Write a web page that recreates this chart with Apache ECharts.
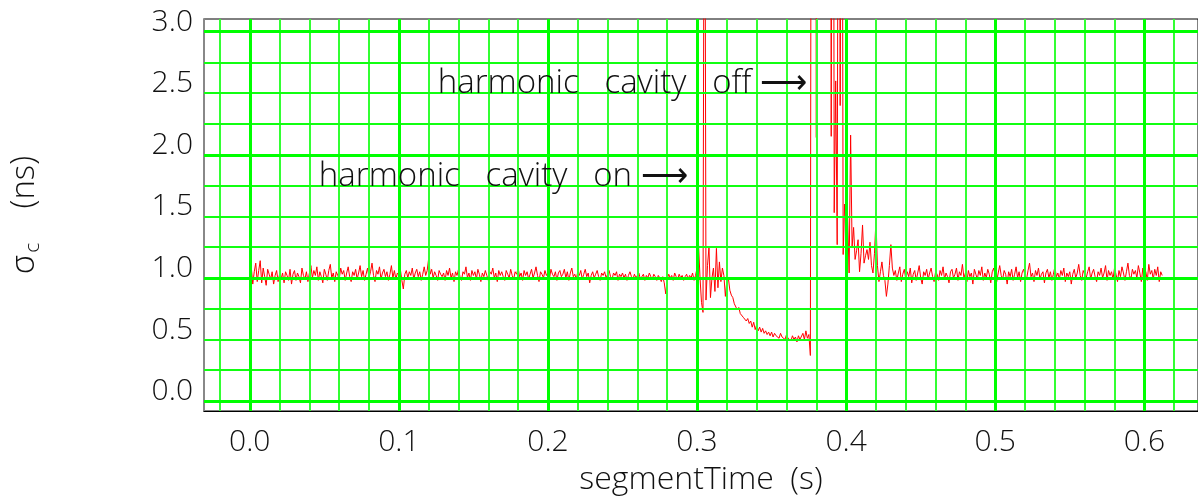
<!DOCTYPE html>
<html><head><meta charset="utf-8">
<script src="https://cdn.jsdelivr.net/npm/echarts@6/dist/echarts.min.js"></script>
<style>html,body{margin:0;padding:0;background:#fff}#c{width:1198px;height:503px}</style>
</head><body><div id="c"></div>
<script>
// sampling of the trace (s)
const sampleStart = 0.0;
const sampleStep = 0.001;
// sigma_c (ns) before the harmonic cavity is switched on (t = 0 .. 0.299 s)
const baselineBefore = [
  0.98, 1.09, 0.95, 1.05, 1.12, 0.97, 1.06, 1.14, 0.96, 1.08,
  1.01, 0.94, 1.07, 1.03, 0.99, 1.05, 0.95, 1.02, 1.06, 0.97,
  1.03, 0.99, 1.04, 0.96, 1.05, 1.02, 0.98, 1.07, 0.95, 1.03,
  1.06, 0.98, 1.04, 1.01, 0.96, 1.08, 1.02, 0.99, 1.05, 0.97,
  1.04, 1.10, 1.00, 1.06, 1.02, 1.09, 0.98, 1.05, 1.01, 0.96,
  1.07, 1.03, 0.98, 1.06, 1.11, 1.00, 1.04, 0.97, 1.05, 1.02,
  0.99, 1.08, 1.03, 1.06, 0.98, 1.04, 1.09, 1.01, 0.97, 1.05,
  1.02, 1.07, 0.99, 1.04, 1.10, 1.01, 1.06, 0.98, 1.03, 1.08,
  1.00, 1.05, 1.12, 1.02, 0.97, 1.06, 1.03, 1.09, 0.99, 1.04,
  1.07, 1.01, 1.05, 0.98, 1.03, 1.10, 1.00, 1.06, 0.99, 1.04,
  1.02, 1.07, 0.98, 0.91, 1.03, 1.06, 1.00, 1.05, 1.02, 1.08,
  0.99, 1.04, 1.07, 1.01, 1.05, 0.98, 1.03, 1.09, 1.02, 1.06,
  1.16, 1.03, 1.07, 1.00, 1.05, 1.02, 0.98, 1.06, 1.03, 1.01,
  1.04, 0.98, 1.06, 1.02, 1.08, 1.00, 1.04, 0.97, 1.05, 1.02,
  1.07, 1.01, 0.98, 1.05, 1.03, 1.09, 1.00, 1.04, 0.98, 1.06,
  1.02, 1.05, 0.99, 1.07, 1.03, 0.97, 1.04, 1.01, 1.06, 1.02,
  0.98, 1.05, 1.03, 1.08, 1.00, 1.04, 0.97, 1.06, 1.02, 1.05,
  1.01, 0.98, 1.06, 1.03, 1.00, 1.07, 1.02, 0.99, 1.05, 1.03,
  1.08, 1.01, 1.04, 0.98, 1.06, 1.02, 1.05, 0.99, 1.03, 1.07,
  1.00, 1.04, 1.09, 1.02, 0.97, 1.05, 1.03, 1.00, 1.06, 1.02,
  1.04, 0.99, 1.07, 1.03, 1.01, 1.05, 0.98, 1.04, 1.06, 1.01,
  1.03, 1.07, 1.00, 1.05, 0.98, 1.04, 1.08, 1.01, 1.03, 0.99,
  1.05, 1.02, 1.06, 0.99, 1.03, 1.07, 1.01, 1.04, 0.96, 1.02,
  1.05, 1.00, 1.03, 1.06, 1.01, 0.98, 1.04, 1.02, 1.05, 1.00,
  1.03, 1.06, 1.01, 0.99, 1.04, 1.02, 1.05, 0.98, 1.03, 1.01,
  1.04, 1.00, 1.03, 0.98, 1.02, 1.05, 1.01, 0.99, 1.03, 1.00,
  1.02, 1.04, 0.99, 1.01, 1.03, 0.98, 1.02, 1.00, 1.04, 1.01,
  0.99, 1.03, 1.01, 0.98, 1.02, 1.00, 0.97, 1.01, 0.96, 0.87,
  0.99, 1.03, 1.00, 1.02, 0.98, 1.04, 1.01, 0.99, 1.03, 1.00,
  1.02, 0.98, 1.01, 1.03, 0.99, 1.02, 1.00, 1.04, 0.98, 1.02
];
// harmonic cavity switched on (t = 0.300 .. 0.323 s)
const cavityOn = [
  1.08, 1.27, 1.00, 0.80, 0.72, 6.00, 0.82, 1.10, 1.25, 0.84,
  1.00, 1.08, 0.89, 1.24, 0.92, 1.13, 0.97, 1.08, 1.02, 0.85,
  0.98, 1.00, 0.90, 0.86
];
// bunch length decay with the cavity on (t = 0.324 .. 0.375 s)
const decay = [
  0.84, 0.79, 0.78, 0.74, 0.76, 0.71, 0.72, 0.68, 0.69, 0.65,
  0.67, 0.63, 0.65, 0.60, 0.64, 0.58, 0.62, 0.57, 0.60, 0.56,
  0.59, 0.55, 0.57, 0.54, 0.56, 0.53, 0.56, 0.52, 0.55, 0.53,
  0.54, 0.51, 0.55, 0.52, 0.53, 0.50, 0.54, 0.51, 0.52, 0.49,
  0.53, 0.50, 0.52, 0.48, 0.53, 0.50, 0.51, 0.55, 0.50, 0.57,
  0.51, 0.54
];
// harmonic cavity switched off (t = 0.376 .. 0.432 s)
const cavityOff = [
  0.37, 9.00, 9.00, 9.00, 2.14, 9.00, 9.00, 9.00, 9.00, 9.00,
  9.00, 9.00, 9.00, 9.00, 2.15, 9.00, 1.53, 2.60, 1.27, 7.00,
  2.40, 7.00, 1.19, 1.60, 1.37, 1.50, 1.04, 2.16, 1.25, 1.41,
  1.15, 1.22, 1.31, 1.05, 1.20, 1.43, 1.12, 1.18, 1.23, 1.15,
  1.29, 1.10, 1.04, 1.20, 1.47, 1.10, 0.97, 1.05, 1.13, 1.02,
  0.98, 0.85, 0.95, 1.10, 1.27, 1.08, 1.02
];
// after switching off (t = 0.433 .. 0.612 s)
const baselineAfter = [
  1.06, 0.98, 1.04, 1.09, 0.97, 1.03, 1.07, 0.99, 1.05, 1.01,
  1.08, 0.96, 1.03, 1.06, 0.98, 1.04, 1.10, 1.00, 0.95, 1.05,
  1.02, 1.07, 0.99, 1.04, 1.08, 1.01, 0.97, 1.05, 1.03, 0.98,
  1.06, 1.02, 1.09, 0.99, 1.04, 1.01, 0.96, 1.05, 1.07, 1.00,
  1.03, 1.08, 0.98, 1.05, 1.02, 1.11, 1.00, 1.04, 0.97, 1.06,
  1.01, 1.04, 0.95, 1.07, 1.03, 0.99, 1.06, 1.02, 1.09, 0.98,
  1.04, 1.00, 1.07, 1.03, 0.96, 1.05, 1.08, 1.01, 0.97, 1.04,
  1.10, 1.02, 0.99, 1.06, 1.03, 0.95, 1.05, 1.01, 1.07, 0.98,
  1.03, 1.09, 1.00, 1.05, 0.97, 1.04, 1.07, 1.02, 0.99, 1.06,
  1.12, 1.01, 1.04, 0.97, 1.06, 1.02, 1.08, 0.99, 1.03, 1.05,
  0.96, 1.04, 1.07, 1.00, 1.05, 0.98, 1.03, 1.09, 1.01, 1.04,
  0.99, 1.06, 1.02, 1.08, 0.97, 1.04, 1.01, 1.05, 0.95, 1.03,
  1.07, 1.00, 1.04, 1.11, 1.02, 0.98, 1.06, 1.03, 1.00, 1.05,
  1.09, 0.99, 1.04, 1.07, 1.01, 0.97, 1.05, 1.02, 1.08, 1.00,
  1.04, 1.10, 0.98, 1.06, 1.02, 1.05, 0.99, 1.08, 1.03, 0.97,
  1.06, 1.01, 1.09, 1.04, 0.98, 1.05, 1.12, 1.02, 0.99, 1.07,
  1.03, 1.06, 1.00, 1.10, 1.04, 0.97, 1.08, 1.02, 1.05, 0.98,
  1.11, 1.03, 1.06, 0.99, 1.07, 1.02, 1.09, 0.97, 1.05, 1.02
];
const sigmaC = [].concat(baselineBefore, cavityOn, decay, cavityOff, baselineAfter);

const xTickLabels = [0.0, 0.1, 0.2, 0.3, 0.4, 0.5, 0.6];
const yTickLabels = [0.0, 0.5, 1.0, 1.5, 2.0, 2.5, 3.0];
const xGridMajor = [0.0, 0.1, 0.2, 0.3, 0.4, 0.5, 0.6];
const xGridMinor = [-0.02, 0.02, 0.04, 0.06, 0.08, 0.12, 0.14, 0.16, 0.18, 0.22, 0.24, 0.26, 0.28,
  0.32, 0.34, 0.36, 0.38, 0.42, 0.44, 0.46, 0.48, 0.52, 0.54, 0.56, 0.58, 0.62];
const yGridMajor = [0, 1, 2, 3];
const yGridMinor = [0.25, 0.5, 0.75, 1.25, 1.5, 1.75, 2.25, 2.5, 2.75];
const annotationTexts = ['harmonic   cavity   on ⟶', 'harmonic   cavity   off ⟶'];
const xTitle = 'segmentTime  (s)';

const FONT = "'Open Sans', Lato, sans-serif";
const FW = 300;
const seriesData = sigmaC.map((v, i) => [sampleStart + i * sampleStep, v]);

const gridLines = [];
xGridMinor.forEach(v => gridLines.push({xAxis: v, lineStyle: {color: '#33ff33', width: 2, type: 'solid'}}));
yGridMinor.forEach(v => gridLines.push({yAxis: v, lineStyle: {color: '#11ff11', width: 2, type: 'solid'}}));
xGridMajor.forEach(v => gridLines.push({xAxis: v, lineStyle: {color: '#00ff00', width: 3, type: 'solid'}}));
yGridMajor.forEach(v => gridLines.push({yAxis: v, lineStyle: {color: '#00ff00', width: 3, type: 'solid'}}));

const annoCoords = [[0.294, 1.82], [0.374, 2.58]];
const annoLabel = {show: true, position: 'left', distance: 0, color: '#111', fontSize: 33, fontFamily: FONT, fontWeight: FW};

const chart = echarts.init(document.getElementById('c'), null, {renderer: 'canvas'});
chart.setOption({
  animation: false,
  backgroundColor: '#fff',
  grid: {left: 198, top: 19, right: 0, bottom: 92, show: true, borderColor: '#000', borderWidth: 1},
  xAxis: {
    type: 'value', min: -0.0307, max: 0.636,
    name: xTitle, nameLocation: 'middle', nameGap: 53,
    nameTextStyle: {fontSize: 32, fontFamily: FONT, fontWeight: FW, color: '#111'},
    axisLine: {show: true, onZero: false, lineStyle: {color: '#000', width: 1}},
    axisTick: {show: false},
    splitLine: {show: false},
    axisLabel: {
      customValues: xTickLabels, margin: 16,
      fontSize: 30, fontFamily: FONT, fontWeight: FW, color: '#111',
      formatter: v => v.toFixed(1)
    }
  },
  yAxis: {
    type: 'value', min: -0.081, max: 3.103,
    name: '{s|σ}{c|c}{n|    (ns)}', nameLocation: 'middle', nameGap: 160, nameRotate: 90,
    nameTextStyle: {
      rich: {
        s: {fontSize: 33, fontFamily: FONT, fontWeight: FW, color: '#111'},
        c: {fontSize: 21, fontFamily: FONT, fontWeight: FW, color: '#111', padding: [18, 0, 0, 2]},
        n: {fontSize: 33, fontFamily: FONT, fontWeight: FW, color: '#111'}
      }
    },
    axisLine: {show: true, onZero: false, lineStyle: {color: '#888', width: 2}},
    axisTick: {show: false},
    splitLine: {show: false},
    axisLabel: {
      customValues: yTickLabels, margin: 11, verticalAlign: 'bottom', lineHeight: 19,
      fontSize: 30, fontFamily: FONT, fontWeight: FW, color: '#111',
      formatter: v => v.toFixed(1)
    }
  },
  series: [
    {
      type: 'line', data: [], silent: true, z: 1,
      markLine: {silent: true, symbol: ['none', 'none'], label: {show: false}, animation: false, data: gridLines}
    },
    {
      type: 'line', data: seriesData, symbol: 'none', showSymbol: false, z: 3, clip: true,
      lineStyle: {color: '#ff0000', width: 1}, silent: true,
      markPoint: {
        silent: true, symbol: 'circle', symbolSize: 1, itemStyle: {color: 'rgba(0,0,0,0)'},
        data: annotationTexts.map((t, k) => ({coord: annoCoords[k], label: Object.assign({formatter: t}, annoLabel)}))
      }
    }
  ]
});
</script>
</body></html>
